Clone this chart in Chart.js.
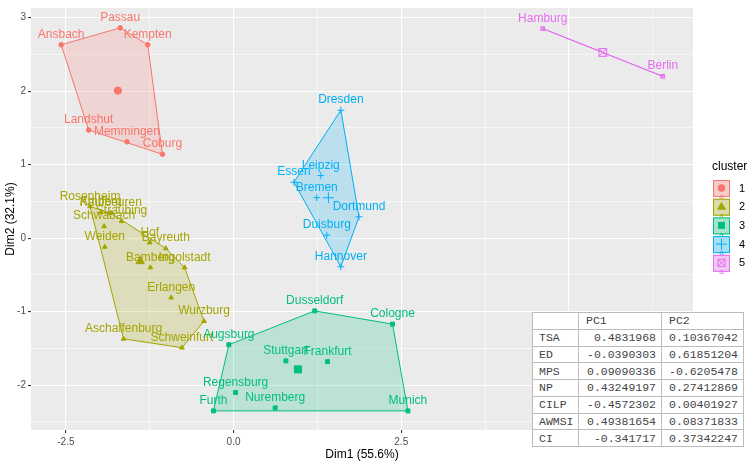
<!DOCTYPE html>
<html><head><meta charset="utf-8">
<script src="https://cdn.jsdelivr.net/npm/chart.js@4.4.0/dist/chart.umd.min.js"></script>
<style>
html,body{margin:0;padding:0;background:#fff;}
#wrap{position:relative;width:751px;height:464px;overflow:hidden;}
canvas{display:block;}
#pc{position:absolute;left:532px;top:312px;border-collapse:collapse;background:#fff;table-layout:fixed;
font-family:"Liberation Mono","DejaVu Sans Mono",monospace;font-size:11.5px;color:#444;border:1px solid #999;}
#pc td{border:1px solid #bbb;height:15.75px;padding:0;line-height:15px;white-space:nowrap;overflow:hidden;}
#pc td.n{padding-left:6px;}
#pc td.r{text-align:right;padding-right:5px;}
#pc td.l{text-align:left;padding-left:7px;}
</style></head>
<body>
<div id="wrap"><canvas id="c" width="751" height="464"></canvas><table id="pc"></table></div>
<script>
// ---- data ----
const c1Names = ['Ansbach','Passau','Kempten','Landshut','Memmingen','Coburg'];
const c1Dim1  = [-2.57,-1.69,-1.28,-2.16,-1.59,-1.06];
const c1Dim2  = [2.63,2.86,2.63,1.47,1.31,1.14];

const c2Names = ['Rosenheim','Amberg','Kaufbeuren','Straubing','Schwabach','Weiden','Hof','Bayreuth','Bamberg','Ingolstadt','Erlangen','Wurzburg','Aschaffenburg','Schweinfurt'];
const c2Dim1  = [-2.14,-1.98,-1.83,-1.67,-1.93,-1.92,-1.25,-1.01,-1.24,-0.73,-0.93,-0.44,-1.64,-0.77];
const c2Dim2  = [0.43,0.35,0.34,0.23,0.16,-0.12,-0.06,-0.14,-0.40,-0.40,-0.81,-1.13,-1.37,-1.49];

const c3Names = ['Dusseldorf','Cologne','Augsburg','Stuttgart','Frankfurt','Regensburg','Furth','Nuremberg','Munich'];
const c3Dim1  = [1.21,2.37,-0.07,0.78,1.40,0.03,-0.30,0.62,2.60];
const c3Dim2  = [-0.99,-1.17,-1.45,-1.67,-1.68,-2.10,-2.35,-2.31,-2.35];

const c4Names = ['Dresden','Leipzig','Essen','Bremen','Dortmund','Duisburg','Hannover'];
const c4Dim1  = [1.60,1.30,0.90,1.24,1.87,1.39,1.60];
const c4Dim2  = [1.74,0.85,0.76,0.55,0.29,0.04,-0.39];

const c5Names = ['Hamburg','Berlin'];
const c5Dim1  = [4.61,6.40];
const c5Dim2  = [2.85,2.20];

const clusterIds = ['1','2','3','4','5'];
const xTickVals = [-2.5,0,2.5,5];
const yTickVals = [-2,-1,0,1,2,3];

const pcVars = ['TSA','ED','MPS','NP','CILP','AWMSI','CI'];
const pc1 = ['0.4831968','-0.0390303','0.09090336','0.43249197','-0.4572302','0.49381654','-0.341717'];
const pc2 = ['0.10367042','0.61851204','-0.6205478','0.27412869','0.00401927','0.08371833','0.37342247'];

// ---- styling ----
const FONT = '"Liberation Sans", Arial, sans-serif';
const colors = ['#F8766D','#A3A500','#00BF7D','#00B0F6','#E76BF3'];
function rgba(hex,a){const n=parseInt(hex.slice(1),16);return `rgba(${n>>16},${(n>>8)&255},${n&255},${a})`;}

const clusters = [
  {names:c1Names,x:c1Dim1,y:c1Dim2},
  {names:c2Names,x:c2Dim1,y:c2Dim2},
  {names:c3Names,x:c3Dim1,y:c3Dim2},
  {names:c4Names,x:c4Dim1,y:c4Dim2},
  {names:c5Names,x:c5Dim1,y:c5Dim2}
];

function hull(pts){
  if(pts.length<3) return pts.slice();
  const p=pts.slice().sort((a,b)=>a.x-b.x||a.y-b.y);
  const cr=(o,a,b)=>(a.x-o.x)*(b.y-o.y)-(a.y-o.y)*(b.x-o.x);
  const lo=[];for(const q of p){while(lo.length>=2&&cr(lo[lo.length-2],lo[lo.length-1],q)<=0)lo.pop();lo.push(q);}
  const up=[];for(let i=p.length-1;i>=0;i--){const q=p[i];while(up.length>=2&&cr(up[up.length-2],up[up.length-1],q)<=0)up.pop();up.push(q);}
  lo.pop();up.pop();return lo.concat(up);
}

const ptStyle = [
  {style:'circle',r:2.3,cr:3.7},
  {style:'triangle',r:2.7,cr:4.8},
  {style:'rect',r:2.8,cr:5},
  {style:'cross',r:3.5,cr:5.5},
  {style:'rect',r:2.6,cr:5.5}
];

const datasets=[];
clusters.forEach((c,i)=>{
  const pts=c.names.map((n,k)=>({x:c.x[k],y:c.y[k]}));
  const h=hull(pts); h.push(h[0]);
  datasets.push({data:h,showLine:true,fill:'shape',tension:0,pointRadius:0,borderWidth:1,
    borderColor:colors[i],backgroundColor:rgba(colors[i],0.2),order:10});
  const s=ptStyle[i];
  const hollow=(i===4);
  datasets.push({data:pts,labels:c.names,labelColor:colors[i],pointStyle:s.style,pointRadius:s.r,
    pointBorderWidth:1,pointBorderColor:colors[i],pointBackgroundColor:hollow?'rgba(0,0,0,0)':colors[i],order:2});
  const cx=c.x.reduce((a,b)=>a+b,0)/c.x.length, cy=c.y.reduce((a,b)=>a+b,0)/c.y.length;
  datasets.push({data:[{x:cx,y:cy}],pointStyle:s.style,pointRadius:s.cr,pointBorderWidth:1,
    pointBorderColor:colors[i],pointBackgroundColor:hollow?'rgba(0,0,0,0)':colors[i],order:2});
  if(hollow){
    datasets.push({data:pts,pointStyle:'crossRot',pointRadius:s.r,pointBorderWidth:1,pointBorderColor:colors[i],order:2});
    datasets.push({data:[{x:cx,y:cy}],pointStyle:'crossRot',pointRadius:s.cr,pointBorderWidth:1,pointBorderColor:colors[i],order:2});
  }
});

function withMinor(maj,lo,hi){
  const step=maj[1]-maj[0];const out=[];
  for(let v=maj[0]-step;v<=maj[maj.length-1]+step+1e-9;v+=step/2){
    const r=Math.round(v*1000)/1000; if(r>=lo&&r<=hi) out.push(r);
  }
  return out;
}
const XMIN=-3.02,XMAX=6.85,YMIN=-2.61,YMAX=3.13;
const xGrid=withMinor(xTickVals,XMIN,XMAX), yGrid=withMinor(yTickVals,YMIN,YMAX);
const isMaj=(arr,v)=>arr.some(t=>Math.abs(t-v)<1e-9);

const panelBg={id:'panelBg',beforeDraw(chart){const {ctx,chartArea:a}=chart;ctx.save();ctx.fillStyle='#EBEBEB';
  ctx.fillRect(a.left,a.top,a.right-a.left,a.bottom-a.top);ctx.restore();}};

const pointLabels={id:'pointLabels',afterDatasetsDraw(chart){
  const ctx=chart.ctx;ctx.save();ctx.font='12px '+FONT;ctx.textAlign='center';ctx.textBaseline='middle';
  chart.data.datasets.forEach((ds,i)=>{
    if(!ds.labels) return;
    const meta=chart.getDatasetMeta(i);ctx.fillStyle=ds.labelColor;
    meta.data.forEach((el,k)=>{ctx.fillText(ds.labels[k],el.x,el.y-10.3);});
  });
  ctx.restore();}};

function glyph(ctx,i,x,y){
  const col=colors[i];ctx.fillStyle=col;ctx.strokeStyle=col;ctx.lineWidth=1;ctx.beginPath();
  if(i===0){ctx.arc(x,y,3.7,0,Math.PI*2);ctx.fill();}
  else if(i===1){ctx.moveTo(x,y-5);ctx.lineTo(x+4.6,y+3);ctx.lineTo(x-4.6,y+3);ctx.closePath();ctx.fill();}
  else if(i===2){ctx.fillRect(x-3.5,y-3.5,7,7);}
  else if(i===3){ctx.moveTo(x-5.5,y);ctx.lineTo(x+5.5,y);ctx.moveTo(x,y-5.5);ctx.lineTo(x,y+5.5);ctx.stroke();}
  else {ctx.strokeRect(x-3.5,y-3.5,7,7);ctx.moveTo(x-3.5,y-3.5);ctx.lineTo(x+3.5,y+3.5);ctx.moveTo(x+3.5,y-3.5);ctx.lineTo(x-3.5,y+3.5);ctx.stroke();}
}
const legendPlug={id:'legendPlug',afterDraw(chart){
  const ctx=chart.ctx;ctx.save();
  ctx.font='12px '+FONT;ctx.fillStyle='#000';ctx.textAlign='left';ctx.textBaseline='middle';
  ctx.fillText('cluster',712,167);
  clusterIds.forEach((lab,i)=>{
    const cy=188.5+18.7*i, bx=713, by=cy-8.5;
    ctx.fillStyle='#F2F2F2';ctx.fillRect(bx,by,17,17);
    ctx.fillStyle=rgba(colors[i],0.3);ctx.fillRect(bx,by,17,17);
    ctx.strokeStyle=colors[i];ctx.lineWidth=1;ctx.strokeRect(bx+0.5,by+0.5,16,16);
    glyph(ctx,i,bx+8.5,cy-0.5);
    ctx.fillStyle=colors[i];ctx.font='8px '+FONT;ctx.textAlign='center';ctx.textBaseline='middle';
    ctx.fillText('a',bx+8.5,by+17);
    ctx.fillStyle='#000';ctx.font='11px '+FONT;ctx.textAlign='left';
    ctx.fillText(lab,739,cy);
  });
  ctx.restore();}};

new Chart(document.getElementById('c'),{
  type:'scatter',
  data:{datasets},
  options:{
    responsive:false,animation:false,events:[],
    layout:{padding:{left:0,right:58,top:2,bottom:0}},
    plugins:{legend:{display:false},tooltip:{enabled:false}},
    scales:{
      x:{type:'linear',min:XMIN,max:XMAX,
        afterBuildTicks:s=>{s.ticks=xGrid.map(v=>({value:v}));},
        afterFit:s=>{s.height=34;},
        ticks:{autoSkip:false,maxRotation:0,padding:3,color:'#4D4D4D',font:{family:FONT,size:10},
          callback:v=>isMaj(xTickVals,v)?v.toFixed(1):''},
        grid:{color:'#FFFFFF',lineWidth:c=>(c.tick&&isMaj(xTickVals,c.tick.value))?1.1:0.55,
          tickColor:c=>(c.tick&&isMaj(xTickVals,c.tick.value))?'#333':'rgba(0,0,0,0)',tickLength:3},
        border:{display:false},
        title:{display:true,text:'Dim1 (55.6%)',color:'#000',font:{family:FONT,size:12},padding:{top:0,bottom:2}}
      },
      y:{type:'linear',min:YMIN,max:YMAX,
        afterBuildTicks:s=>{s.ticks=yGrid.map(v=>({value:v}));},
        afterFit:s=>{s.width=31;},
        ticks:{autoSkip:false,padding:2,color:'#4D4D4D',font:{family:FONT,size:10},
          callback:v=>isMaj(yTickVals,v)?String(v):''},
        grid:{color:'#FFFFFF',lineWidth:c=>(c.tick&&isMaj(yTickVals,c.tick.value))?1.1:0.55,
          tickColor:c=>(c.tick&&isMaj(yTickVals,c.tick.value))?'#333':'rgba(0,0,0,0)',tickLength:3},
        border:{display:false},
        title:{display:true,text:'Dim2 (32.1%)',color:'#000',font:{family:FONT,size:12},padding:{top:3,bottom:0}}
      }
    }
  },
  plugins:[panelBg,pointLabels,legendPlug]
});

// PCA loadings table
const tbl=document.getElementById('pc');
let html='<colgroup><col style="width:46px"><col style="width:83px"><col style="width:82px"></colgroup>';
html+='<tr><td class="n"></td><td class="l">PC1</td><td class="l">PC2</td></tr>';
pcVars.forEach((v,i)=>{html+=`<tr><td class="n">${v}</td><td class="r">${pc1[i]}</td><td class="l">${pc2[i]}</td></tr>`;});
tbl.innerHTML=html;
</script>
</body></html>
